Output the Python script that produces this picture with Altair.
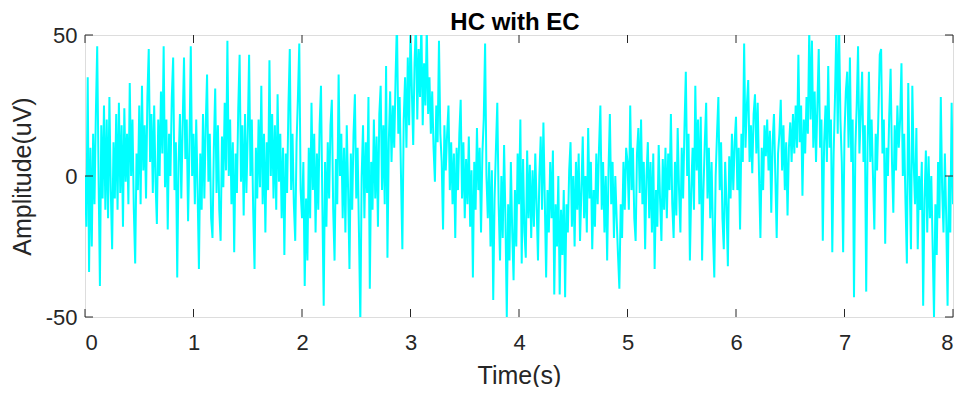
import altair as alt
import pandas as pd

# Amplitude samples (uV), one every 0.0125 s
sec0 = [0, -18, 35, -34, 10, -25, 15, -10, 22, 46, 0, -39, 18, -8, 25, -12, 20, -15, 28, -5,
        -26, 12, -8, 22, -12, 26, -6, 18, -18, 24, -2, 15, -10, 33, 0, 20, -12, -31, 8, -5,
        25, -10, 32, 2, 18, -8, 28, 45, 5, 22, -6, 25, -2, -17, 20, 0, 30, 8, 46, -4,
        20, -19, 15, 0, 28, 42, -5, 12, -36, 5, 22, -8, 18, 42, 6, 20, -16, 10, 46, 0]
sec1 = [15, -10, 20, -5, -33, 8, -12, 22, -8, 18, 36, -2, 15, -15, -22, 10, 31, -6, 18, -12,
        -23, 14, -4, 26, 2, 48, 0, 20, -10, 12, -27, 8, -6, 24, 43, -2, 18, -14, 22, -6,
        15, 43, 0, 20, -12, -33, 10, -8, 20, -4, 32, -10, 15, -20, 12, -5, 41, 0, 22, -8,
        18, -12, 29, -2, 15, -15, 10, -28, 8, -6, 25, 45, -5, 15, -10, -23, 12, 28, 47, -5]
sec2 = [-15, 5, -39, -8, -30, 10, -15, 26, -5, 15, -20, 8, -12, 18, 32, -10, -46, 5, -18, 12,
        -8, 18, 27, -12, -30, 6, -10, 36, 0, 15, -15, 10, -20, 18, -5, -33, 8, -12, 15, 29,
        -8, 10, -20, -52, 0, 18, -15, 12, -6, 28, -40, 5, -12, 20, -8, 14, -18, 22, 32, -5,
        18, -10, 39, -29, 12, 30, 5, 25, 10, 35, 55, 15, 28, 0, -26, 20, 35, 10, 42, 18]
sec3 = [52, 30, 11, 40, 55, 20, 45, 28, 55, 18, 40, 25, 53, 22, 35, 15, 30, 10, -2, 25,
        12, 48, 15, 5, -19, 18, 2, 15, 25, -5, 12, -10, 8, -22, 10, -5, 15, 27, -8, 12,
        -15, 6, -10, 14, -18, 2, -36, 5, -12, 17, -5, 10, -20, 8, 20, 47, 0, -15, 5, -25,
        2, -44, -8, 10, 26, -10, -30, 0, -22, 11, -15, -50, -10, -30, 5, -20, -37, -5, -25, 8]
sec4 = [-10, 20, -31, 6, -20, -29, 9, -15, 4, -22, 2, -18, 8, -10, -30, 0, 14, -12, 19, -8,
        -36, -5, -20, 5, -15, 9, -42, -10, -25, 0, -42, -12, -28, -5, -43, -10, -20, 2, 12, -18,
        0, -25, 5, -12, 8, -23, -5, 14, -15, 0, -20, 17, -8, 5, -26, -5, -18, 8, -10, 10,
        25, -12, 5, -20, 0, -30, 2, 22, -10, 5, -22, 0, -15, -28, -40, -10, -22, 5, -12, 10]
sec5 = [5, -12, 25, -5, 10, -15, -23, 8, 17, -6, 20, -10, 5, -26, 0, 12, -15, 5, -20, 8,
        -33, -5, -18, 11, -8, -23, 6, -12, 10, -15, 8, -5, 22, -10, -22, 5, -14, 17, -5, -20,
        10, -8, 17, 37, 0, 15, -30, -5, 10, -12, 32, 2, 20, -10, 21, -30, -5, 12, 26, -8,
        10, -15, 5, -20, -36, 0, 15, 28, -5, 12, -15, -26, 5, -10, -32, 7, -8, 15, -5, 12]
sec6 = [21, -5, 10, -19, 15, 5, 47, 10, 25, 34, 5, 18, 1, 22, 29, 8, 26, 0, -22, 10,
        -5, 18, 7, 20, 2, 16, -13, 12, 22, 0, -22, 8, 15, 27, 2, 18, -5, 12, -14, 10,
        19, 5, 22, 8, 25, 10, 43, 12, 25, -7, 20, 8, 28, 15, 52, 20, 48, 10, 30, 5,
        25, 45, 10, 20, -23, 12, 25, 5, 39, 10, 20, -27, 8, 28, 53, 15, 53, 20, 5, -27]
sec7 = [15, 30, 37, 10, 42, 5, 20, -43, 10, 25, 46, 8, 22, 37, 5, 18, -41, 10, 37, 5,
        20, 0, -19, 15, 2, 22, 43, 45, 8, 20, -24, 10, 0, 22, 38, 5, -13, 18, 2, 25,
        10, 20, 40, 0, 15, -10, -31, 33, 0, -26, 32, 5, -10, 17, -26, 0, -12, 5, -46, -8,
        9, -20, 7, -15, 0, -25, -50, -10, -28, 5, -15, 28, -5, -20, 8, -15, -46, 0, -20, 26, -10]

amplitude = sec0 + sec1 + sec2 + sec3 + sec4 + sec5 + sec6 + sec7
step = 0.0125
time = [round(i * step, 4) for i in range(len(amplitude))]

x_ticks = [0, 1, 2, 3, 4, 5, 6, 7, 8]
y_ticks = [-50, 0, 50]
TITLE = "HC with EC"

W, H = 868, 282
FONT = "Liberation Sans"
AX = "#262626"

df = pd.DataFrame({"t": time, "v": amplitude})
xs = alt.Scale(domain=[0, 8], nice=False, zero=False)
ys = alt.Scale(domain=[-50, 50], nice=False, zero=False)

line = alt.Chart(df).mark_line(color="#00FFFF", strokeWidth=2, clip=True).encode(
    x=alt.X("t:Q", scale=xs, axis=alt.Axis(
        title="Time(s)", values=x_ticks, labelExpr="toString(datum.value)",
        ticks=False, domain=False, grid=False,
        labelFont=FONT, labelFontSize=22, labelColor=AX, labelPadding=15,
        titleFont=FONT, titleFontSize=25, titleFontWeight="normal", titleColor=AX, titlePadding=10)),
    y=alt.Y("v:Q", scale=ys, axis=alt.Axis(
        title="Amplitude(uV)", values=y_ticks, labelExpr="toString(datum.value)",
        ticks=False, domain=False, grid=False,
        labelFont=FONT, labelFontSize=22, labelColor=AX, labelPadding=8,
        titleFont=FONT, titleFontSize=25, titleFontWeight="normal", titleColor=AX, titlePadding=10)),
)

xt = pd.DataFrame({"t": x_ticks})
yt = pd.DataFrame({"v": y_ticks})
xb = alt.Chart(xt).mark_rule(color=AX, strokeWidth=1).encode(
    x=alt.X("t:Q", scale=xs), y=alt.value(H), y2=alt.value(H - 8))
xtop = alt.Chart(xt).mark_rule(color=AX, strokeWidth=1).encode(
    x=alt.X("t:Q", scale=xs), y=alt.value(0), y2=alt.value(8))
yl = alt.Chart(yt).mark_rule(color=AX, strokeWidth=1).encode(
    y=alt.Y("v:Q", scale=ys), x=alt.value(0), x2=alt.value(8))
yr = alt.Chart(yt).mark_rule(color=AX, strokeWidth=1).encode(
    y=alt.Y("v:Q", scale=ys), x=alt.value(W), x2=alt.value(W - 8))

title = alt.Chart(pd.DataFrame({"title": [TITLE]})).mark_text(
    font=FONT, fontSize=24, fontWeight="bold", color="#000000",
    align="center", baseline="alphabetic").encode(
    text="title:N", x=alt.value(W / 2 - 4), y=alt.value(-5))

chart = alt.layer(line, xb, xtop, yl, yr, title).properties(
    width=W, height=H,
    autosize=alt.AutoSizeParams(type="none"),
    padding={"left": 77, "top": 27, "right": 10, "bottom": 70},
).configure_view(stroke="#4d4d4d", strokeWidth=1.2).configure(background="white")

chart.save("out.html", embed_options={"renderer": "svg", "actions": False})
